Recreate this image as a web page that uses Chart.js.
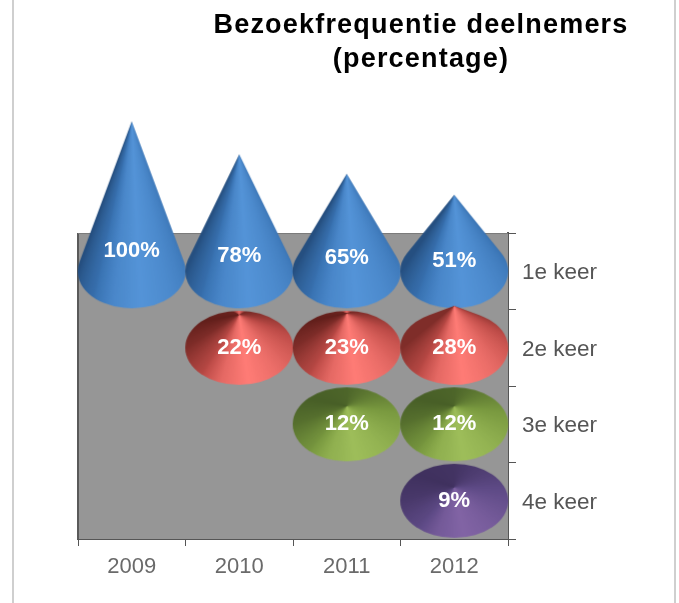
<!DOCTYPE html>
<html>
<head>
<meta charset="utf-8">
<title>Bezoekfrequentie deelnemers</title>
<script src="https://cdn.jsdelivr.net/npm/chart.js@4"></script>
<style>
  html, body { margin: 0; padding: 0; background: #fff; }
  #wrap { position: relative; width: 679px; height: 603px; overflow: hidden; }
  #frame { position: absolute; left: 12px; top: -3px; width: 660px; height: 612px; border: 2px solid #cfcfcf; }
  canvas { position: absolute; left: 0; top: 0; filter: blur(0.7px); }
</style>
</head>
<body>
<div id="wrap">
  <div id="frame"></div>
  <canvas id="chart" width="679" height="603"></canvas>
</div>
<script>
const titleLines = ['Bezoekfrequentie deelnemers', '(percentage)'];
const years = ['2009', '2010', '2011', '2012'];
const rows = ['1e keer', '2e keer', '3e keer', '4e keer'];
const keer1 = [100, 78, 65, 51];
const keer2 = [null, 22, 23, 28];
const keer3 = [null, null, 12, 12];
const keer4 = [null, null, null, 9];

// dark, mid, light shade of each cone colour
const blue = [[24, 56, 96], [58, 116, 180], [84, 148, 216]];
const red = [[88, 26, 22], [190, 76, 72], [255, 124, 118]];
const green = [[66, 88, 36], [122, 154, 64], [158, 190, 90]];
const purple = [[60, 46, 90], [94, 74, 134], [130, 100, 165]];

const RX = 54, RY = 37;
const PX_PER_PERCENT = 1.5;

// how much light falls on the cone at each angle round its base, in degrees
const lightAngles = [-180, -135, -90, -45, 0, 45, 80, 110, 135, 180];
const lightShades = [0.18, 0.05, 0.1, 0.35, 0.6, 0.85, 1, 0.8, 0.45, 0.18];

function shadeAt(deg, streak) {
    // the red cones have a thin bright line going up from the tip
    if (streak && Math.abs(deg + 90) < 8) {
        return 0.1 + 0.75 * (1 - Math.abs(deg + 90) / 8);
    }
    for (let i = 0; i < lightAngles.length - 1; i++) {
        if (deg <= lightAngles[i + 1]) {
            let t = (deg - lightAngles[i]) / (lightAngles[i + 1] - lightAngles[i]);
            return lightShades[i] + (lightShades[i + 1] - lightShades[i]) * t;
        }
    }
    return lightShades[0];
}

function mix(shades, s) {
    let a = s < 0.5 ? shades[0] : shades[1];
    let b = s < 0.5 ? shades[1] : shades[2];
    let t = s < 0.5 ? s * 2 : (s - 0.5) * 2;
    return 'rgb(' + a.map((c, i) => Math.round(c + (b[i] - c) * t)).join(',') + ')';
}

// Cone image, the base centre sits in the middle so chart.js puts it on the point
function coneImage(value, shades) {
    let tip = value * PX_PER_PERCENT;
    let c = document.createElement('canvas');
    c.width = RX * 2 + 4;
    c.height = Math.ceil(Math.max(tip, RY) + 2) * 2;
    let g = c.getContext('2d');
    g.translate(c.width / 2, c.height / 2);

    let tall = tip > RY;
    let edge = tall ? Math.asin(-RY / tip) : -Math.PI;
    let stops = [];
    for (let deg = -180; deg < 180; deg += 2) {
        let th = deg * Math.PI / 180;
        if (tall && (th < edge || th > Math.PI - edge)) continue;
        let phi = Math.atan2(RY * Math.sin(th) + tip, RX * Math.cos(th));
        if (phi < 0) phi += 2 * Math.PI;
        stops.push([phi / (2 * Math.PI), mix(shades, shadeAt(deg, shades === red))]);
    }
    let grad = g.createConicGradient(0, 0, -tip);
    stops.sort((p, q) => p[0] - q[0]).forEach(s => grad.addColorStop(s[0], s[1]));
    g.fillStyle = grad;

    g.beginPath();
    if (tall) {
        g.moveTo(0, -tip);
        g.ellipse(0, 0, RX, RY, 0, edge, Math.PI - edge);
        g.closePath();
    } else {
        g.ellipse(0, 0, RX, RY, 0, 0, 2 * Math.PI);
    }
    g.fill();
    return c;
}

function makeDataset(values, rowName, shades, order) {
    let points = [];
    let styles = [];
    values.forEach((v, i) => {
        if (v === null) return;
        points.push({ x: years[i], y: rowName, v: v });
        styles.push(coneImage(v, shades));
    });
    return {
        label: rowName,
        data: points,
        pointStyle: styles,
        pointRadius: 4,
        clip: false,
        order: order
    };
}

const plotBackground = {
    id: 'plotBackground',
    afterLayout(chart) {
        // the title sits over the right part of the picture, a bit spaced out
        let title = chart.titleBlock;
        title.left = 190;
        title.right = 652;
        if (!title.spaced) {
            let draw = title.draw;
            title.draw = function() {
                chart.ctx.save();
                chart.ctx.letterSpacing = '1.2px';
                draw.apply(title, arguments);
                chart.ctx.restore();
            };
            title.spaced = true;
        }
    },
    beforeDatasetsDraw(chart) {
        let a = chart.chartArea;
        let ctx = chart.ctx;
        ctx.save();
        ctx.fillStyle = '#969696';
        ctx.fillRect(a.left, a.top, a.width, a.height);
        ctx.strokeStyle = '#5a5a5a';
        ctx.lineWidth = 2;
        ctx.beginPath();
        ctx.moveTo(a.left, a.bottom);
        ctx.lineTo(a.left, a.top);
        ctx.stroke();
        ctx.strokeStyle = '#7a7a7a';
        ctx.lineWidth = 1;
        ctx.beginPath();
        ctx.moveTo(a.left, a.top + 0.5);
        ctx.lineTo(a.right, a.top + 0.5);
        ctx.stroke();
        ctx.restore();
    }
};

const percentLabels = {
    id: 'percentLabels',
    afterDatasetsDraw(chart) {
        let ctx = chart.ctx;
        ctx.save();
        ctx.fillStyle = '#fff';
        ctx.font = 'bold 22px "Liberation Sans"';
        ctx.textAlign = 'center';
        ctx.textBaseline = 'middle';
        chart.data.datasets.forEach((ds, d) => {
            chart.getDatasetMeta(d).data.forEach((pt, i) => {
                let v = ds.data[i].v;
                // labels on the tall cones sit higher up
                let lift = v > 40 ? v * 0.2 : 0;
                ctx.fillText(v + '%', pt.x, pt.y - lift);
            });
        });
        ctx.restore();
    }
};

new Chart(document.getElementById('chart').getContext('2d'), {
    type: 'scatter',
    data: {
        datasets: [
            makeDataset(keer1, rows[0], blue, 4),
            makeDataset(keer2, rows[1], red, 3),
            makeDataset(keer3, rows[2], green, 2),
            makeDataset(keer4, rows[3], purple, 1)
        ]
    },
    options: {
        responsive: false,
        animation: false,
        layout: { padding: { left: 78, right: 0, top: 0, bottom: 0 } },
        plugins: {
            legend: { display: false },
            tooltip: { enabled: false },
            title: {
                display: true,
                text: titleLines,
                color: '#000',
                font: { family: '"Liberation Sans"', size: 27, weight: 'bold', lineHeight: 1.26 },
                padding: { top: 9, bottom: 156 }
            }
        },
        scales: {
            x: {
                type: 'category',
                labels: years,
                offset: true,
                afterFit: s => { s.height = 64; },
                border: { color: '#555', width: 2 },
                grid: { offset: true, drawOnChartArea: false, tickColor: '#555', tickLength: 7 },
                ticks: { color: '#6a6a6a', font: { family: '"Liberation Sans"', size: 22 }, padding: 8, maxRotation: 0 }
            },
            y: {
                type: 'category',
                position: 'right',
                labels: rows,
                offset: true,
                afterFit: s => { s.width = 171; },
                border: { color: '#555', width: 2 },
                grid: { offset: true, drawOnChartArea: false, tickColor: '#555', tickLength: 8 },
                ticks: { color: '#555', font: { family: '"Liberation Sans"', size: 22.5 }, padding: 6, labelOffset: 2 }
            }
        }
    },
    plugins: [plotBackground, percentLabels]
});
</script>
</body>
</html>
